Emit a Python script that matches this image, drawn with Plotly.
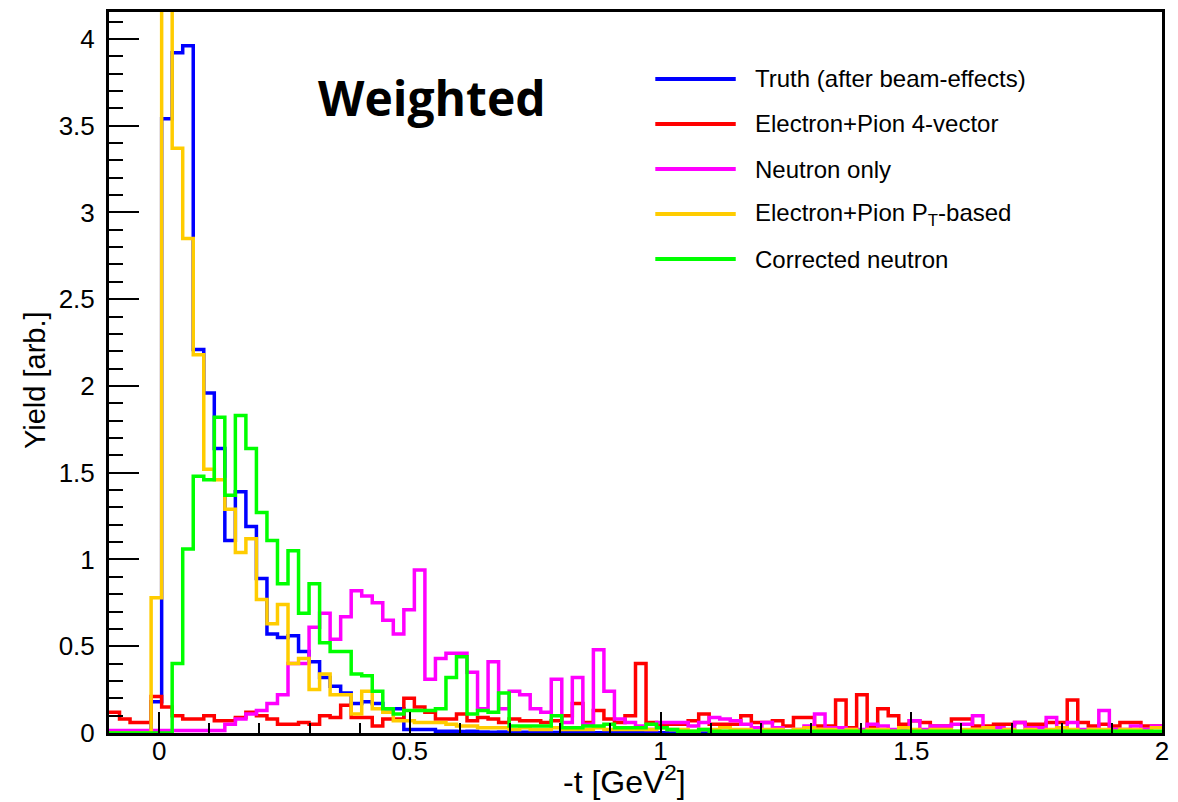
import plotly.graph_objects as go

# -t histogram: 100 bins of 0.021 GeV^2 from -0.1 to 2.0
x_min = -0.1
x_max = 2.0
n_bins = 100

truth = [0, 0, 0, 0, 0.18, 3.54, 3.92, 3.96, 2.21, 1.96,
         1.64, 1.11, 1.39, 1.19, 0.89, 0.57, 0.55, 0.56, 0.47, 0.41,
         0.32, 0.27, 0.23, 0.17, 0.18, 0.17, 0.14, 0.14, 0.02, 0.02,
         0.02, 0.01, 0.01, 0.008, 0.01, 0.006, 0.005, 0.006, 0.004, 0.005,
         0.003, 0.004, 0.003, 0.002, 0.003, 0.002, 0.002, 0.001, 0.002, 0.001,
         0.001, 0.001, 0.001, 0, 0.001, 0, 0, 0.001, 0, 0,
         0, 0, 0, 0, 0, 0, 0, 0, 0, 0,
         0, 0, 0, 0, 0, 0, 0, 0, 0, 0,
         0, 0, 0, 0, 0, 0, 0, 0, 0, 0,
         0, 0, 0, 0, 0, 0, 0, 0, 0, 0]

ep_4vector = [0.12, 0.08, 0.06, 0.06, 0.21, 0.15, 0.10, 0.08, 0.08, 0.10,
              0.07, 0.07, 0.09, 0.12, 0.10, 0.08, 0.05, 0.05, 0.06, 0.05,
              0.10, 0.09, 0.16, 0.09, 0.09, 0.04, 0.08, 0.08, 0.20, 0.15,
              0.12, 0.08, 0.08, 0.11, 0.07, 0.09, 0.08, 0.06, 0.08, 0.07,
              0.07, 0.06, 0.07, 0.10, 0.17, 0.06, 0.13, 0.08, 0.06, 0.10,
              0.40, 0.06, 0.05, 0.05, 0.05, 0.07, 0.11, 0.05, 0.05, 0.05,
              0.10, 0.06, 0.06, 0.07, 0.04, 0.09, 0.09, 0.04, 0.04, 0.19,
              0.03, 0.22, 0.03, 0.14, 0.10, 0.05, 0.07, 0.06, 0.04, 0.04,
              0.08, 0.08, 0.04, 0.04, 0.05, 0.05, 0.06, 0.05, 0.05, 0.06,
              0.06, 0.19, 0.06, 0.04, 0.05, 0.04, 0.06, 0.06, 0.04, 0.04]

neutron_only = [0.015, 0.015, 0.015, 0.015, 0.015, 0.015, 0.015, 0.015, 0.015, 0.015,
                0.015, 0.05, 0.08, 0.11, 0.13, 0.17, 0.22, 0.40, 0.40, 0.61,
                0.69, 0.54, 0.67, 0.82, 0.79, 0.75, 0.65, 0.57, 0.71, 0.94,
                0.31, 0.43, 0.46, 0.46, 0.35, 0.14, 0.41, 0.14, 0.24, 0.22,
                0.14, 0.12, 0.31, 0.06, 0.32, 0.05, 0.48, 0.24, 0.08, 0.06,
                0.04, 0.02, 0.06, 0.06, 0.06, 0.04, 0.06, 0.09, 0.08, 0.07,
                0.05, 0.03, 0.06, 0.03, 0.01, 0.02, 0.04, 0.11, 0.03, 0.03,
                0.02, 0.02, 0.05, 0.04, 0.02, 0.02, 0.07, 0.02, 0.04, 0.04,
                0.05, 0.05, 0.10, 0.03, 0.03, 0.02, 0.06, 0.03, 0.03, 0.09,
                0.03, 0.06, 0.02, 0.02, 0.13, 0.02, 0.02, 0.04, 0.02, 0.04]

ep_pt_based = [0, 0, 0, 0, 0.78, 4.90, 3.37, 2.85, 2.18, 1.52,
               1.46, 1.29, 1.04, 1.12, 0.77, 0.63, 0.74, 0.40, 0.43, 0.25,
               0.34, 0.22, 0.22, 0.11, 0.24, 0.14, 0.12, 0.07, 0.07, 0.06,
               0.06, 0.06, 0.05, 0.04, 0.04, 0.03, 0.03, 0.03, 0.02, 0.03,
               0.02, 0.02, 0.03, 0.02, 0.02, 0.02, 0.03, 0.02, 0.02, 0.02,
               0.02, 0.02, 0.03, 0.02, 0.02, 0.01, 0.02, 0.02, 0.03, 0.02,
               0.02, 0.01, 0.02, 0.02, 0.01, 0.02, 0.03, 0.02, 0.02, 0.01,
               0.02, 0.01, 0.02, 0.02, 0.01, 0.03, 0.02, 0.01, 0.02, 0.02,
               0.01, 0.02, 0.02, 0.03, 0.01, 0.02, 0.01, 0.02, 0.01, 0.02,
               0.03, 0.02, 0.01, 0.02, 0.02, 0.01, 0.02, 0.02, 0.01, 0.03]

corrected_neutron = [0, 0, 0, 0, 0, 0, 0.40, 1.06, 1.48, 1.46,
                     1.82, 1.37, 1.83, 1.64, 1.27, 1.11, 0.86, 1.05, 0.69, 0.86,
                     0.52, 0.47, 0.47, 0.34, 0.33, 0.24, 0.14, 0.11, 0.13, 0.13,
                     0.13, 0.14, 0.32, 0.44, 0.11, 0.13, 0.12, 0.23, 0.04, 0.04,
                     0.04, 0.04, 0.10, 0.03, 0.03, 0.04, 0.04, 0.05, 0.03, 0.03,
                     0.03, 0.05, 0.03, 0.02, 0.01, 0.01, 0.02, 0.01, 0.01, 0.01,
                     0.01, 0.01, 0.01, 0.01, 0.01, 0.01, 0.01, 0.01, 0.01, 0.01,
                     0.01, 0.01, 0.01, 0.01, 0.01, 0.01, 0.01, 0.01, 0.01, 0.01,
                     0.01, 0.01, 0.01, 0.01, 0.01, 0.01, 0.01, 0.01, 0.01, 0.01,
                     0.01, 0.01, 0.01, 0.01, 0.01, 0.01, 0.01, 0.01, 0.01, 0.01]

series_names = ["Truth (after beam-effects)",
                "Electron+Pion 4-vector",
                "Neutron only",
                "Electron+Pion P<sub>T</sub>-based",
                "Corrected neutron"]
series_values = [truth, ep_4vector, neutron_only, ep_pt_based, corrected_neutron]
series_colors = ["#0000ff", "#ff0000", "#ff00ff", "#ffcc00", "#00ff00"]

bin_w = (x_max - x_min) / n_bins
edges = [x_min + i * bin_w for i in range(n_bins + 1)]

FONT = "Liberation Sans, Arial, sans-serif"

fig = go.Figure()
for name, vals, col in zip(series_names, series_values, series_colors):
    fig.add_trace(go.Scatter(
        x=edges, y=list(vals) + [vals[-1]],
        mode="lines", line=dict(color=col, width=3.5, shape="hv"),
        name=name, showlegend=False, hoverinfo="skip"))

# hand-drawn legend (long line samples, no frame)
leg_x0, leg_x1, leg_tx = 0.5188, 0.5952, 0.6120
leg_rows = [0.9071, 0.8447, 0.7822, 0.7198, 0.6574]
shapes = []
annotations = []
for name, col, yy in zip(series_names, series_colors, leg_rows):
    shapes.append(dict(type="line", xref="paper", yref="paper",
                       x0=leg_x0, x1=leg_x1, y0=yy, y1=yy,
                       line=dict(color=col, width=4)))
    annotations.append(dict(xref="paper", yref="paper", x=leg_tx, y=yy,
                            text=name, showarrow=False, xanchor="left",
                            yanchor="middle",
                            font=dict(family=FONT, size=24, color="black")))

annotations.append(dict(xref="paper", yref="paper", x=0.3070, y=0.882,
                        text="<b>Weighted</b>", showarrow=False,
                        xanchor="center", yanchor="middle",
                        font=dict(family="Open Sans, sans-serif", size=48,
                                  color="black")))
annotations.append(dict(xref="paper", yref="paper", x=0.4900, y=-0.0652,
                        text="-t [GeV<sup>2</sup>]", showarrow=False,
                        xanchor="center", yanchor="middle",
                        font=dict(family=FONT, size=32, color="black")))
annotations.append(dict(xref="paper", yref="paper", x=-0.0703, y=0.4896,
                        text="Yield [arb.]", showarrow=False, textangle=-90,
                        xanchor="center", yanchor="middle",
                        font=dict(family=FONT, size=29, color="black")))

fig.update_layout(
    width=1178, height=802,
    margin=dict(l=109, r=9, t=12, b=69),
    paper_bgcolor="white", plot_bgcolor="white",
    shapes=shapes, annotations=annotations,
    xaxis=dict(range=[x_min, x_max], tick0=0, dtick=0.5,
               showgrid=False, zeroline=False,
               showline=True, linecolor="black", linewidth=3, mirror=True,
               ticks="inside", ticklen=21, tickwidth=2, tickcolor="black",
               minor=dict(dtick=0.1, ticks="inside", ticklen=10,
                          tickwidth=1.5, tickcolor="black", showgrid=False),
               tickfont=dict(family=FONT, size=26, color="black"),
               ticklabelstandoff=-7),
    yaxis=dict(range=[0, 4.155], tick0=0, dtick=0.5,
               showgrid=False, zeroline=False,
               showline=True, linecolor="black", linewidth=3, mirror=True,
               ticks="inside", ticklen=30, tickwidth=2, tickcolor="black",
               minor=dict(dtick=0.1, ticks="inside", ticklen=14,
                          tickwidth=1.5, tickcolor="black", showgrid=False),
               tickfont=dict(family=FONT, size=26, color="black"),
               ticklabelstandoff=6),
)

fig.write_html("out.html")
